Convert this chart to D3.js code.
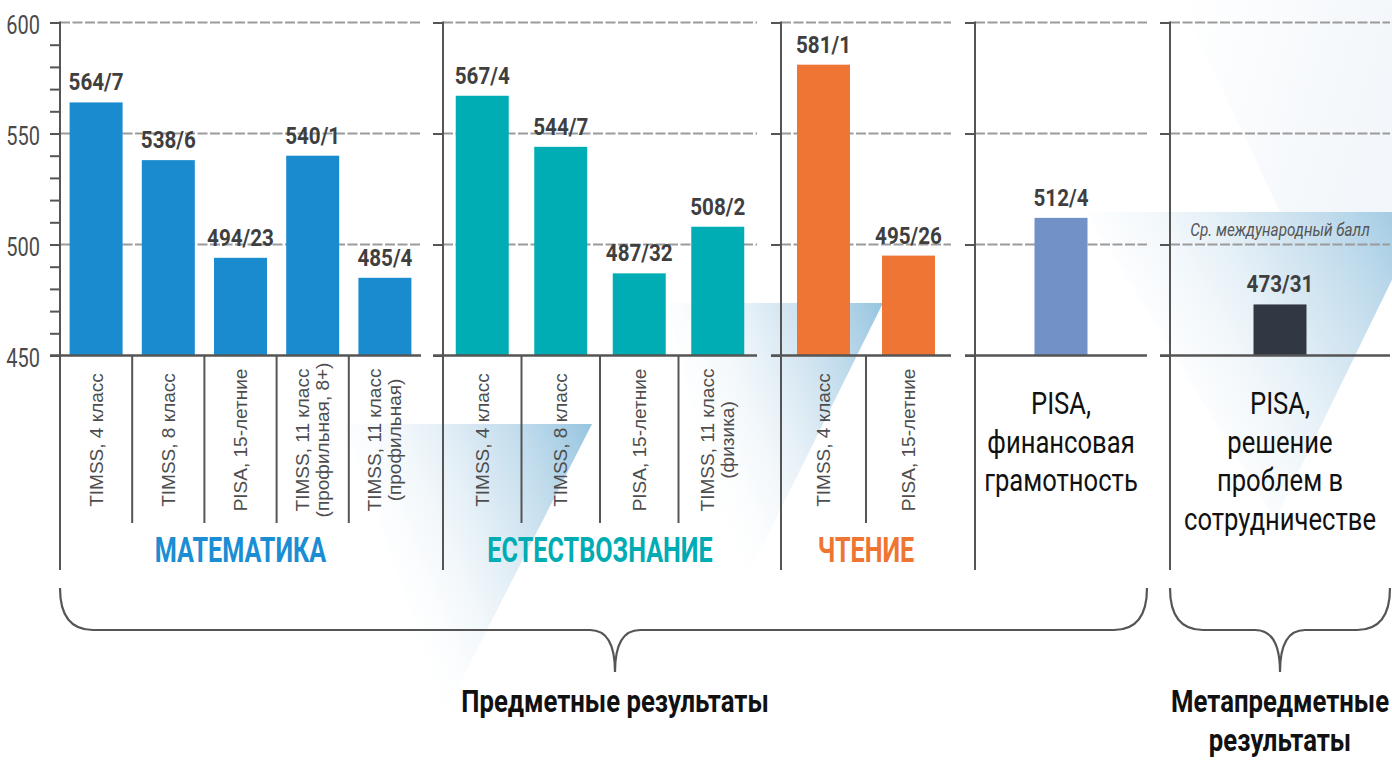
<!DOCTYPE html>
<html><head><meta charset="utf-8">
<script src="https://cdn.jsdelivr.net/npm/d3@7"></script>
<style>body{margin:0;background:#fff} svg{display:block}</style>
</head><body><svg id="c" width="1392" height="764"></svg>
<script>
// ---------- DATA ----------
const mathCats = ["TIMSS, 4 класс", "TIMSS, 8 класс", "PISA, 15-летние", "TIMSS, 11 класс|(профильная, 8+)", "TIMSS, 11 класс|(профильная)"];
const mathScores = [564, 538, 494, 540, 485];
const mathRanks = [7, 6, 23, 1, 4];

const sciCats = ["TIMSS, 4 класс", "TIMSS, 8 класс", "PISA, 15-летние", "TIMSS, 11 класс|(физика)"];
const sciScores = [567, 544, 487, 508];
const sciRanks = [4, 7, 32, 2];

const readCats = ["TIMSS, 4 класс", "PISA, 15-летние"];
const readScores = [581, 495];
const readRanks = [1, 26];

const finCats = ["PISA,|финансовая|грамотность"];
const finScores = [512];
const finRanks = [4];

const collabCats = ["PISA,|решение|проблем в|сотрудничестве"];
const collabScores = [473];
const collabRanks = [31];

const groupTitles = ["МАТЕМАТИКА", "ЕСТЕСТВОЗНАНИЕ", "ЧТЕНИЕ"];
const yTicks = [450, 500, 550, 600];
const gridValues = [500, 550, 600];
const minorTicks = d3.range(450, 601, 10);
const braceLabels = ["Предметные результаты", "Метапредметные|результаты"];
const avgLabel = "Ср. международный балл";
const avgValue = 500;

// ---------- LAYOUT ----------
const svg = d3.select("#c");
const y = d3.scaleLinear().domain([450, 600]).range([355.5, 22.5]);
const BAR_W = 53;
const AXIS_BOTTOM = 570, SEP_BOTTOM = 523, CAT_MID = 440;
const FONT = "Roboto, 'Open Sans', 'DejaVu Sans', sans-serif";
const DARK = "#555";

const panels = [
  {cats: mathCats, scores: mathScores, ranks: mathRanks, x0: 60, x1: 421, color: "#1b8bcf", title: groupTitles[0], titleColor: "#1a8dd3", rotated: true, minor: true},
  {cats: sciCats, scores: sciScores, ranks: sciRanks, x0: 443, x1: 757, color: "#00adb4", title: groupTitles[1], titleColor: "#00acb3", rotated: true},
  {cats: readCats, scores: readScores, ranks: readRanks, x0: 781, x1: 951, color: "#ee7533", title: groupTitles[2], titleColor: "#ef7532", rotated: true},
  {cats: finCats, scores: finScores, ranks: finRanks, x0: 975, x1: 1147, color: "#7291c6", rotated: false},
  {cats: collabCats, scores: collabScores, ranks: collabRanks, x0: 1170, x1: 1390, color: "#313843", rotated: false, avg: true}
];

// ---------- DEFS ----------
const defs = svg.append("defs");
const grad = defs.append("linearGradient").attr("id", "beam")
  .attr("x1", 1).attr("y1", 0).attr("x2", 0).attr("y2", 0.5);
grad.append("stop").attr("offset", 0).attr("stop-color", "#8cbfdd").attr("stop-opacity", 0.92);
grad.append("stop").attr("offset", 0.4).attr("stop-color", "#bcd8ea").attr("stop-opacity", 0.6);
grad.append("stop").attr("offset", 0.95).attr("stop-color", "#ffffff").attr("stop-opacity", 0);
const grad2 = defs.append("linearGradient").attr("id", "haze")
  .attr("x1", 0).attr("y1", 0).attr("x2", 1).attr("y2", 0.3);
grad2.append("stop").attr("offset", 0).attr("stop-color", "#d5e3f0").attr("stop-opacity", 0);
grad2.append("stop").attr("offset", 1).attr("stop-color", "#d5e3f0").attr("stop-opacity", 0.3);

// decorative background haze + light beams
svg.append("path").attr("d", "M1180,0L1392,0L1392,212L1280,212Z").attr("fill", "url(#haze)");
const beams = [
  [[345, 424], [592, 424], [445, 712]],
  [[667, 303], [883, 303], [737, 597]],
  [[1087, 212], [1425, 212], [1275, 520]]
];
svg.append("g").selectAll("path").data(beams).join("path")
  .attr("d", d => "M" + d.map(p => p.join(",")).join("L") + "Z")
  .attr("fill", "url(#beam)");

// scaled text helper
function sText(parent, x, yy, str, o) {
  const g = parent.append("g").attr("transform", `translate(${x},${yy})`);
  const t = g.append("text")
    .attr("transform", `scale(${o.sx || 1},1)`)
    .attr("text-anchor", o.anchor || "middle")
    .attr("font-family", o.family || FONT)
    .attr("font-size", o.size)
    .attr("font-weight", o.weight || 400)
    .attr("font-style", o.style || "normal")
    .attr("fill", o.fill || "#333")
    .text(str);
  if (o.x != null) t.attr("x", o.x);
  return g;
}

// ---------- PANELS ----------
panels.forEach((p, pi) => {
  const g = svg.append("g");
  const n = p.cats.length;
  const step = (p.x1 - p.x0) / n;
  const pad = 1 - BAR_W / step;
  const x = d3.scaleBand().domain(p.cats).range([p.x0, p.x1]).paddingInner(pad).paddingOuter(pad / 2);

  // gridlines
  g.selectAll("line.grid").data(gridValues).join("line")
    .attr("x1", p.x0).attr("x2", p.x1)
    .attr("y1", d => y(d)).attr("y2", d => y(d))
    .attr("stroke", "#9b9b9b").attr("stroke-width", 2.2).attr("stroke-dasharray", "10,2.5");

  // bars
  g.selectAll("rect").data(p.cats).join("rect")
    .attr("x", d => x(d)).attr("width", x.bandwidth())
    .attr("y", (d, i) => y(p.scores[i]))
    .attr("height", (d, i) => y(450) - y(p.scores[i]))
    .attr("fill", p.color);

  // axis (ticks)
  const axis = d3.axisLeft(y).tickValues(p.minor ? minorTicks : yTicks).tickSize(10)
    .tickFormat(d => (p.minor && yTicks.includes(d)) ? d : "");
  const ag = g.append("g").attr("transform", `translate(${p.x0},0)`).call(axis);
  ag.select(".domain").remove();
  ag.selectAll(".tick line").attr("stroke", DARK).attr("stroke-width", 2);
  const sx = 0.8;
  ag.selectAll(".tick text")
    .attr("font-family", FONT).attr("font-size", 25).attr("fill", "#4a4a4a")
    .attr("transform", `scale(${sx},1)`).attr("x", -20 / sx).attr("dy", "0.42em");

  // vertical axis line
  g.append("line").attr("x1", p.x0).attr("x2", p.x0).attr("y1", y(600) - 1).attr("y2", AXIS_BOTTOM)
    .attr("stroke", DARK).attr("stroke-width", 2);
  // baseline
  g.append("line").attr("x1", p.x0 - 10).attr("x2", p.x1).attr("y1", y(450)).attr("y2", y(450))
    .attr("stroke", DARK).attr("stroke-width", 2.5);

  // value labels
  p.cats.forEach((c, i) => {
    sText(g, x(c) + x.bandwidth() / 2, y(p.scores[i]) - 12, p.scores[i] + "/" + p.ranks[i],
      {size: 24, weight: 700, sx: 0.86, fill: "#3f3f3f"});
  });

  if (p.rotated) {
    // separators
    p.cats.slice(1).forEach(c => {
      const sxp = x(c) - (step - x.bandwidth()) / 2;
      g.append("line").attr("x1", sxp).attr("x2", sxp).attr("y1", y(450)).attr("y2", SEP_BOTTOM)
        .attr("stroke", DARK).attr("stroke-width", 2);
    });
    // rotated category labels
    p.cats.forEach(c => {
      const lines = c.split("|");
      const cg = g.append("g").attr("transform", `translate(${x(c) + x.bandwidth() / 2},${CAT_MID}) rotate(-90)`);
      lines.forEach((ln, li) => {
        cg.append("text").attr("x", 0).attr("y", (li - (lines.length - 1) / 2) * 20)
          .attr("dominant-baseline", "central").attr("text-anchor", "middle")
          .attr("font-family", "'Liberation Sans', Arial, sans-serif").attr("font-size", 19)
          .attr("fill", "#4d4d4d").text(ln);
      });
    });
    // group title
    sText(g, (p.x0 + p.x1) / 2, 562, p.title, {size: 35, weight: 700, sx: 0.72, fill: p.titleColor});
  } else {
    p.cats.forEach(c => {
      const lines = c.split("|");
      lines.forEach((ln, li) => {
        sText(g, x(c) + x.bandwidth() / 2, 414 + li * 38.5, ln, {size: 32, sx: 0.8, fill: "#111"});
      });
    });
  }

  if (p.avg) {
    sText(g, x(p.cats[0]) + x.bandwidth() / 2, y(avgValue) - 9, avgLabel,
      {size: 18, style: "italic", sx: 0.85, fill: "#555"});
  }
});

// ---------- BRACES ----------
const braces = [
  {x0: 60, x1: 1147, tip: 615, label: braceLabels[0]},
  {x0: 1170, x1: 1390, tip: 1280, label: braceLabels[1]}
];
const bTop = 588, bLine = 630, bTip = 672, r = 33, tr = 25;
braces.forEach(b => {
  const d = `M${b.x0},${bTop} Q${b.x0},${bLine} ${b.x0 + r},${bLine} L${b.tip - tr},${bLine} Q${b.tip},${bLine} ${b.tip},${bTip} ` +
            `Q${b.tip},${bLine} ${b.tip + tr},${bLine} L${b.x1 - r},${bLine} Q${b.x1},${bLine} ${b.x1},${bTop}`;
  svg.append("path").attr("d", d).attr("fill", "none").attr("stroke", DARK).attr("stroke-width", 2.2);
  b.label.split("|").forEach((ln, li) => {
    sText(svg, b.tip, 712 + li * 38.5, ln, {size: 31, weight: 700, sx: 0.83, fill: "#111"});
  });
});
</script></body></html>
